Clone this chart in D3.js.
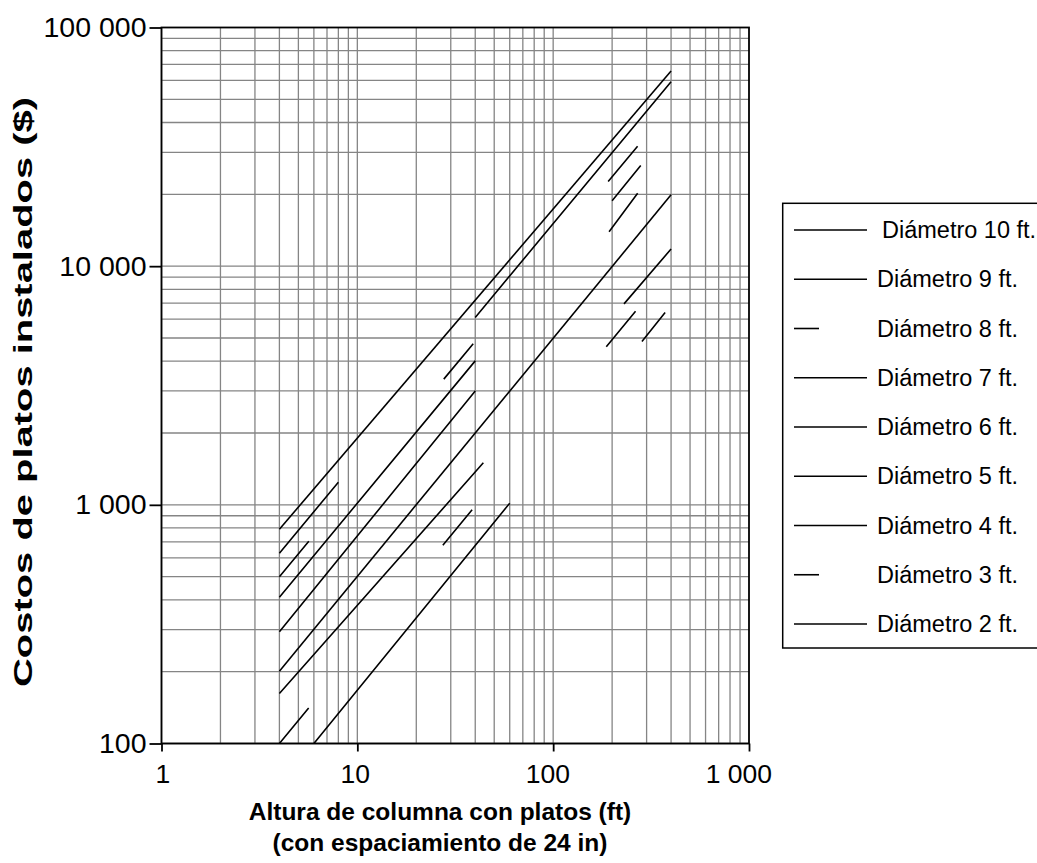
<!DOCTYPE html>
<html>
<head>
<meta charset="utf-8">
<script src="https://cdn.jsdelivr.net/npm/d3@7"></script>
<style>
  html, body { margin: 0; padding: 0; background: #fff; }
  svg { display: block; font-family: "Liberation Sans", Arial, sans-serif; }
</style>
</head>
<body>
<svg id="chart" width="1037" height="863"></svg>
<script>
// Axis ticks and labels
const xTickValues = [1, 10, 100, 1000];
const xTickLabels = ["1", "10", "100", "1 000"];
const yTickValues = [100, 1000, 10000, 100000];
const yTickLabels = ["100", "1 000", "10 000", "100 000"];

const xTitle = ["Altura de columna con platos (ft)", "(con espaciamiento de 24 in)"];
const yTitle = "Costos de platos instalados ($)";

// Series names, in legend order
const seriesNames = [
  "Diámetro 10 ft.", "Diámetro 9 ft.", "Diámetro 8 ft.", "Diámetro 7 ft.",
  "Diámetro 6 ft.", "Diámetro 5 ft.", "Diámetro 4 ft.", "Diámetro 3 ft.",
  "Diámetro 2 ft."
];

// [column height (ft), installed tray cost ($)]; null breaks a line
const dia10 = [[4, 790], [400, 65700]];
const dia9  = [[4, 627], [8, 1244], null, [40, 6100], [400, 59300]];
const dia8  = [[4, 500], [400, 46900]];
const dia7  = [[4, 410], [40, 4010], null, [200, 18800], [280, 26400]];
const dia6  = [[4, 294], [40, 3000], null, [193, 13950], [270, 20200]];
const dia5  = [[4, 201], [400, 19900]];
const dia4  = [[4, 162], [44, 1500], null, [230, 6950], [400, 11800]];
const dia3  = [[4, 100], [400, 9800]];
const dia2  = [[6, 100], [60, 1016], null, [284, 4830], [373, 6390]];

const seriesData = [dia10, dia9, dia8, dia7, dia6, dia5, dia4, dia3, dia2];

// Line styles: the 8 ft and 3 ft lines use a long-dash pattern
const dashed = { "Diámetro 8 ft.": true, "Diámetro 3 ft.": true };
const plotDash = "46 211";
const legendDash = "25 200";

// ---- layout ----
const svg = d3.select("#chart");
const plot = { left: 161.5, right: 749, top: 27.5, bottom: 743.5 };

const x = d3.scaleLog().domain([1, 1000]).range([plot.left, plot.right]);
const y = d3.scaleLog().domain([100, 100000]).range([plot.bottom, plot.top]);

// minor log grid: 1..9 in every decade
const gridX = [];
for (let d = 1; d < 1000; d *= 10) for (let m = 1; m < 10; m++) gridX.push(d * m);
const gridY = [];
for (let d = 100; d < 100000; d *= 10) for (let m = 1; m < 10; m++) gridY.push(d * m);

const grid = svg.append("g").attr("stroke", "#858585").attr("stroke-width", 1.3);
grid.selectAll("line.gx").data(gridX).join("line")
  .attr("x1", d => x(d)).attr("x2", d => x(d))
  .attr("y1", plot.top).attr("y2", plot.bottom);
grid.selectAll("line.gy").data(gridY).join("line")
  .attr("x1", plot.left).attr("x2", plot.right)
  .attr("y1", d => y(d)).attr("y2", d => y(d));

// plot frame
svg.append("rect")
  .attr("x", plot.left).attr("y", plot.top)
  .attr("width", plot.right - plot.left).attr("height", plot.bottom - plot.top)
  .attr("fill", "none").attr("stroke", "#000").attr("stroke-width", 1.8);

// axes
const fmtX = d => xTickLabels[xTickValues.indexOf(d)];
const fmtY = d => yTickLabels[yTickValues.indexOf(d)];

const gx = svg.append("g").attr("transform", `translate(0,${plot.bottom})`)
  .call(d3.axisBottom(x).tickValues(xTickValues).tickFormat(fmtX)
    .tickSize(8).tickSizeOuter(0).tickPadding(13));
const gy = svg.append("g").attr("transform", `translate(${plot.left},0)`)
  .call(d3.axisLeft(y).tickValues(yTickValues).tickFormat(fmtY)
    .tickSize(12).tickSizeOuter(0).tickPadding(3));
[gx, gy].forEach(g => {
  g.select(".domain").remove();
  g.selectAll(".tick line").attr("stroke", "#000").attr("stroke-width", 1.8);
  g.selectAll(".tick text").attr("fill", "#000")
    .style("font-family", '"Liberation Sans", Arial, sans-serif');
});
gy.selectAll(".tick text").style("font-size", "28.5px");
gx.selectAll(".tick text").style("font-size", "26.5px")
  .attr("dx", function () { return 4 - 0.22 * this.getBBox().width; });

// data lines
const line = d3.line().defined(d => d !== null).x(d => x(d[0])).y(d => y(d[1]));
svg.append("g").selectAll("path").data(seriesData).join("path")
  .attr("d", d => line(d))
  .attr("fill", "none").attr("stroke", "#000").attr("stroke-width", 1.6)
  .attr("stroke-dasharray", (d, i) => dashed[seriesNames[i]] ? plotDash : null);

// axis titles
const xt = svg.append("text").attr("text-anchor", "middle")
  .attr("font-weight", "bold").attr("font-size", 24.5).attr("fill", "#000");
xTitle.forEach((t, i) => xt.append("tspan").attr("x", 440).attr("y", 820 + i * 31).text(t));

svg.append("text").attr("text-anchor", "middle")
  .attr("transform", `translate(32,392) rotate(-90)`)
  .attr("font-weight", "bold").attr("font-size", 26).attr("fill", "#000")
  .attr("textLength", 590).attr("lengthAdjust", "spacingAndGlyphs")
  .text(yTitle);

// legend
const lg = { x: 782.7, y: 203.3, w: 300, h: 444.7, row0: 230, rowStep: 49.25 };
svg.append("rect").attr("x", lg.x).attr("y", lg.y).attr("width", lg.w).attr("height", lg.h)
  .attr("fill", "#fff").attr("stroke", "#000").attr("stroke-width", 1.5);
const items = svg.append("g").selectAll("g").data(seriesNames).join("g")
  .attr("transform", (d, i) => `translate(0,${lg.row0 + i * lg.rowStep})`);
items.append("line")
  .attr("x1", 794).attr("x2", 867).attr("y1", 0).attr("y2", 0)
  .attr("stroke", "#000").attr("stroke-width", 1.6)
  .attr("stroke-dasharray", d => dashed[d] ? legendDash : null);
items.append("text")
  .attr("x", (d, i) => i === 0 ? 882 : 877).attr("dy", "0.35em")
  .attr("font-size", 23.5).attr("fill", "#000")
  .text(d => d);
</script>
</body>
</html>
